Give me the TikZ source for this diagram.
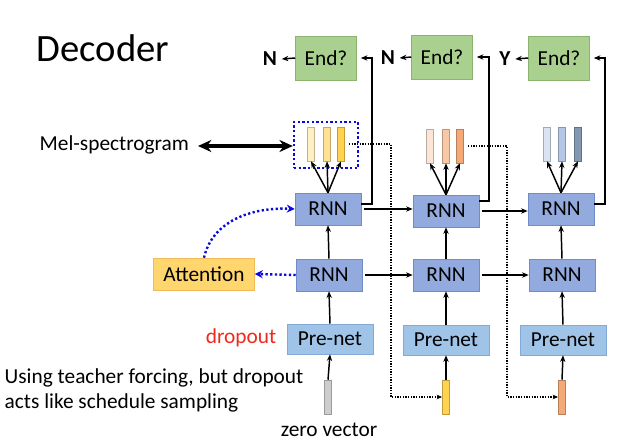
\documentclass[tikz,border=0pt]{standalone}
\usepackage{fontspec}
\setmainfont{Carlito}
\usetikzlibrary{arrows.meta,calc}
\definecolor{rnnfill}{RGB}{146,170,222}
\definecolor{rnnline}{RGB}{110,140,200}
\definecolor{prefill}{RGB}{160,196,232}
\definecolor{preline}{RGB}{130,170,215}
\definecolor{endfill}{RGB}{169,208,142}
\definecolor{endline}{RGB}{140,180,112}
\definecolor{attfill}{RGB}{255,214,110}
\definecolor{attline}{RGB}{240,185,90}
\definecolor{ya}{RGB}{255,240,195}
\definecolor{yb}{RGB}{255,225,145}
\definecolor{yc}{RGB}{255,210,80}
\definecolor{oa}{RGB}{251,229,214}
\definecolor{ob}{RGB}{248,200,165}
\definecolor{oc}{RGB}{244,170,120}
\definecolor{ba}{RGB}{218,227,243}
\definecolor{bb}{RGB}{180,199,231}
\definecolor{bc}{RGB}{132,151,176}
\definecolor{zg}{RGB}{205,205,205}
\definecolor{dblue}{RGB}{10,10,220}
\definecolor{dred}{RGB}{240,40,30}
\begin{document}
\begin{tikzpicture}[x=0.75pt,y=-0.75pt,
  txt/.style={font=\fontsize{16}{19}\selectfont},
  rnn/.style={txt,draw=rnnline,fill=rnnfill,minimum width=49.5pt,minimum height=24pt,inner sep=0pt},
  prenet/.style={txt,draw=preline,fill=prefill,minimum width=64.5pt,minimum height=22.5pt,inner sep=0pt},
  endbox/.style={txt,draw=endline,fill=endfill,minimum width=45.75pt,minimum height=33pt,inner sep=0pt},
  bar/.style={draw=#1!75!black,fill=#1,minimum width=5.6pt,minimum height=25.5pt,inner sep=0pt,line width=0.4pt},
  arr/.style={-{Stealth[length=5pt,width=4pt]},line width=1.1pt,black},
  fb/.style={-{Stealth[length=5pt,width=4pt]},line width=1.3pt,black},
  blk/.style={-{Stealth[length=4pt,width=3.5pt]},line width=0.9pt,dash pattern=on 1pt off 1pt},
  bdot/.style={line width=1.8pt,dblue,dash pattern=on 1.7pt off 1.8pt},
]
\useasboundingbox (0,0) rectangle (625,446);
\node[anchor=west,font=\fontsize{29}{34}\selectfont] (title) at (32,48) {Decoder};

% End boxes
\node[endbox] (eA) at (326,58) {End?};
\node[endbox] (eB) at (442,57) {End?};
\node[endbox] (eC) at (559,58) {End?};
\node[font=\fontsize{16}{19}\selectfont\bfseries] (nA) at (270,59) {N};
\node[font=\fontsize{16}{19}\selectfont\bfseries] (nB) at (388,58) {N};
\node[font=\fontsize{16}{19}\selectfont\bfseries] (nC) at (505,59) {Y};
\draw[arr] (eA.west) -- (nA.east);
\draw[arr] (eB.west) -- (nB.east);
\draw[arr] (eC.west) -- (nC.east);

% upper RNN
\node[rnn] (uA) at (328,209) {RNN};
\node[rnn] (uB) at (446,211) {RNN};
\node[rnn] (uC) at (561,209) {RNN};
% lower RNN
\node[rnn] (lA) at (329,275) {RNN};
\node[rnn] (lB) at (446,275) {RNN};
\node[rnn] (lC) at (562,275) {RNN};
% pre-nets
\node[prenet] (pA) at (330,339) {Pre-net};
\node[prenet] (pB) at (446,340) {Pre-net};
\node[prenet] (pC) at (563,340) {Pre-net};
% attention
\node[txt,draw=attline,fill=attfill,minimum width=75.75pt,minimum height=24pt,inner sep=0pt] (att) at (204,274) {Attention};

% spectrogram bars
\node[bar=ya] (s11) at (311,144) {};
\node[bar=yb] (s12) at (327,144) {};
\node[bar=yc] (s13) at (341,144) {};
\node[bar=oa] (s21) at (430,146) {};
\node[bar=ob] (s22) at (446,146) {};
\node[bar=oc] (s23) at (460,146) {};
\node[bar=ba] (s31) at (547,144) {};
\node[bar=bb] (s32) at (562,144) {};
\node[bar=bc] (s33) at (578,144) {};
\node[draw=dblue,line width=1.8pt,dash pattern=on 1.7pt off 1.8pt,minimum width=48pt,minimum height=34.5pt,inner sep=0pt] (selbox) at (326,145) {};

% input bars
\node[bar=zg] (iA) at (328,397) {};
\node[bar=yc] (iB) at (446,397) {};
\node[bar=oc] (iC) at (562,397) {};

% labels
\node[txt,anchor=west] (mel) at (35,145) {Mel-spectrogram};
\node[txt,dred,anchor=east] (drop) at (281,338) {dropout};
\node[txt] (zero) at (329,430) {zero vector};
\node[txt,anchor=west,align=left,font=\fontsize{16}{18.8}\selectfont] (note) at (0,390) {Using teacher forcing, but dropout\\acts like schedule sampling};

% mel double arrow
\draw[{Stealth[length=10pt,width=9pt]}-{Stealth[length=10pt,width=9pt]},line width=2.3pt] (198,146) coordinate (m1) -- (selbox.west |- m1) coordinate (m2);

% RNN to bars
\foreach \c/\r in {1/A,2/B,3/C}{
  \foreach \k in {1,2,3}{
    \draw[arr] (u\r.north) -- (s\c\k.south);
  }
}

% vertical arrows
\foreach \r in {A,B,C}{
  \draw[arr] (i\r.north) -- (p\r.south);
  \draw[arr] (p\r.north) -- (l\r.south);
  \draw[arr] (l\r.north) -- (u\r.south);
}

% horizontal arrows
\draw[arr] ([xshift=2pt]uA.east) -- (uB.west |- uA.east);
\draw[arr] ([xshift=2pt]uB.east) -- (uC.west |- uB.east);
\draw[arr] ([xshift=2pt]lA.east) -- (lB.west);
\draw[arr] ([xshift=2pt]lB.east) -- (lC.west);

% feedback to End?
\draw[fb] ([yshift=3.75pt]uA.east) -- ++(11,0) |- ([xshift=3pt]eA.east);
\draw[fb] ([yshift=7.5pt]uB.east) -- ++(10,0) |- ([xshift=3pt]eB.east);
\draw[fb] ([yshift=3.75pt]uC.east) -- ++(11,0) |- ([xshift=3pt]eC.east);

% dotted feedback of outputs
\coordinate (d1) at (391,300);
\coordinate (d2) at (507,300);
\draw[blk] ([xshift=3pt]s13.east) -| (d1) |- (iB.west);
\draw[blk] ([xshift=3pt]s23.east) -| (d2) |- (iC.west);

% attention connectors
\draw[bdot,-{Stealth[length=6pt,width=6pt]}] (lA.west) -- (att.east);
\draw[bdot,-{Stealth[length=6pt,width=6pt]}] (att.north) .. controls (212,222) and (250,207) .. (uA.west);
\end{tikzpicture}
\end{document}
